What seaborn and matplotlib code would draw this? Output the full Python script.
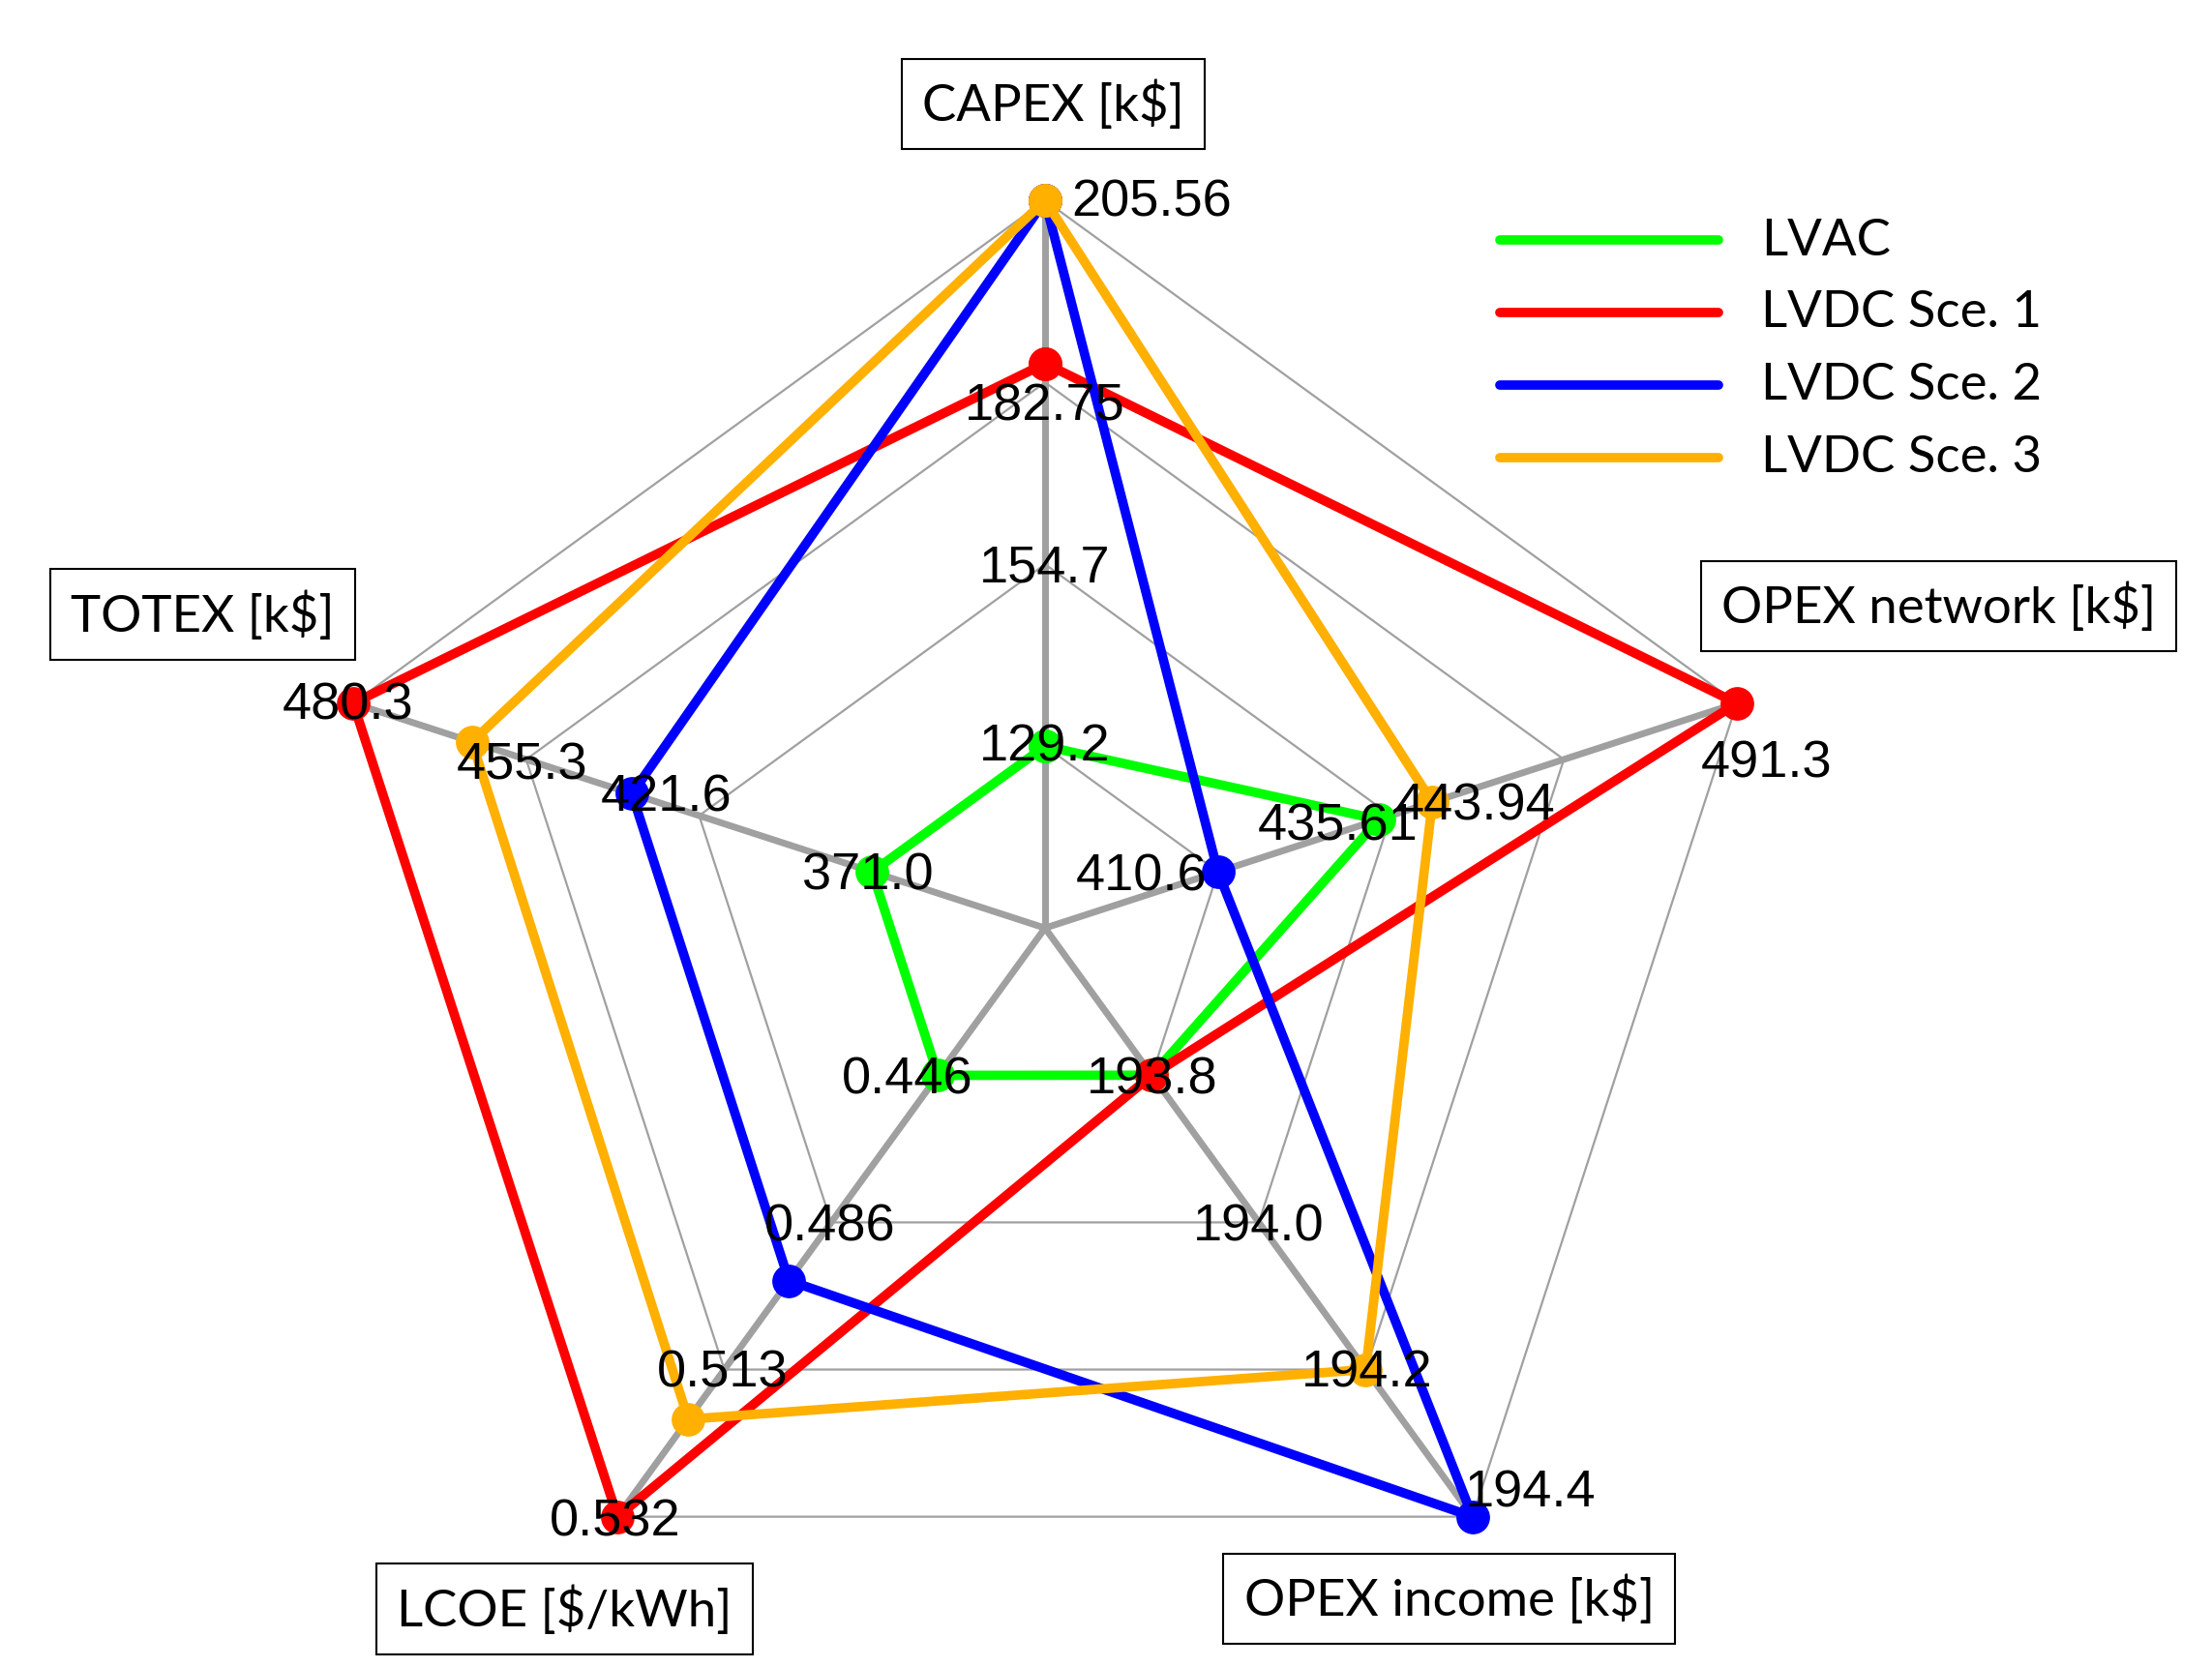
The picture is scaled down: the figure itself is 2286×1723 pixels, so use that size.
import numpy as np
import matplotlib
matplotlib.use("Agg")
import matplotlib.pyplot as plt
import seaborn as sns

axes_names = ["CAPEX [k$]", "OPEX network [k$]", "OPEX income [k$]", "LCOE [$/kWh]", "TOTEX [k$]"]
axis_min = [103.75, 383.7, 193.6, 0.4173, 334.6]
axis_max = [205.56, 491.3, 194.4, 0.532, 480.3]
series = ["LVAC", "LVDC Sce. 1", "LVDC Sce. 2", "LVDC Sce. 3"]
colors = ["#00ff00", "#ff0000", "#0000ff", "#ffb000"]
lvac = [129.2, 435.61, 193.8, 0.446, 371.0]
sce1 = [182.75, 491.3, 193.8, 0.532, 480.3]
sce2 = [205.56, 410.6, 194.4, 0.486, 421.6]
sce3 = [205.56, 443.94, 194.2, 0.513, 455.3]
values = [lvac, sce1, sce2, sce3]
tick_labels = [["129.2", "154.7", "182.75", "205.56"],
               ["410.6", "435.61", "443.94", "491.3"],
               ["193.8", "194.0", "194.2", "194.4"],
               ["0.446", "0.486", "0.513", "0.532"],
               ["371.0", "421.6", "455.3", "480.3"]]
tick_frac = [[.25, .5, .776, 1], [.25, .48, .56, 1], [.25, .5, .75, 1], [.25, .5, .75, 1], [.25, .5, .75, 1]]
tick_off = [[(0, 0), (0, 2), (0, 30), (75, 1)],
            [(-54, 3), (-28, 4), (30, 2), (21, 42)],
            [(0, 3), (0, 3), (1, 2), (41, -17)],
            [(-22, 3), (-1, 3), (-1, 2), (-2, 3)],
            [(-3, 2), (-23, -13), (-3, 4), (-4, 1)]]
title_pos = [(743, 74), (1367, 428), (1022, 1128), (398, 1135), (143, 434)]

sns.set_style("white")
plt.rcParams['font.family'] = ['Liberation Sans', 'DejaVu Sans']

W, H = 1560, 1176
fig = plt.figure(figsize=(22.86, 17.24), dpi=100)
ax = fig.add_axes([0, 0, 1, 1])
ax.set_xlim(0, W); ax.set_ylim(H, 0); ax.axis("off")

cx, cy, R = 737, 655, 513
ang = np.deg2rad([90, 18, -54, -126, 162])
ux, uy = np.cos(ang), -np.sin(ang)

def pt(i, f):
    return cx + R * f * ux[i], cy + R * f * uy[i]

gray = "#a0a0a0"
for f in [0.25, 0.5, 0.75, 1.0]:
    xs = [pt(i % 5, f)[0] for i in range(6)]
    ys = [pt(i % 5, f)[1] for i in range(6)]
    ax.plot(xs, ys, color=gray, lw=1.6, zorder=1)
for i in range(5):
    x1, y1 = pt(i, 1)
    ax.plot([cx, x1], [cy, y1], color=gray, lw=5, zorder=2)

for s, (name, vals, c) in enumerate(zip(series, values, colors)):
    fr = [(v - mn) / (mx - mn) for v, mn, mx in zip(vals, axis_min, axis_max)]
    xs = [pt(i % 5, fr[i % 5])[0] for i in range(6)]
    ys = [pt(i % 5, fr[i % 5])[1] for i in range(6)]
    ax.plot(xs, ys, color=c, lw=7, marker="o", ms=24, zorder=3 + s, label=name)

for i in range(5):
    for lab, f, (dx, dy) in zip(tick_labels[i], tick_frac[i], tick_off[i]):
        x, y = pt(i, f)
        ax.text(x + dx, y + dy, lab, fontsize=39, color="black", ha="center", va="center", zorder=10)
    tx, ty = title_pos[i]
    ax.text(tx, ty, axes_names[i], fontsize=38, family="Lato", color="black", ha="center", va="center", zorder=10,
            bbox=dict(boxstyle="square,pad=0.4", fc="white", ec="black", lw=1.5))

for k, (name, c) in enumerate(zip(series, colors)):
    y = 170 + 51 * k
    ax.plot([1058, 1212], [y, y], color=c, lw=7)
    ax.text(1242, y, name, fontsize=38, family="Lato", color="black", va="center")

fig.savefig("out.png", dpi=100)
